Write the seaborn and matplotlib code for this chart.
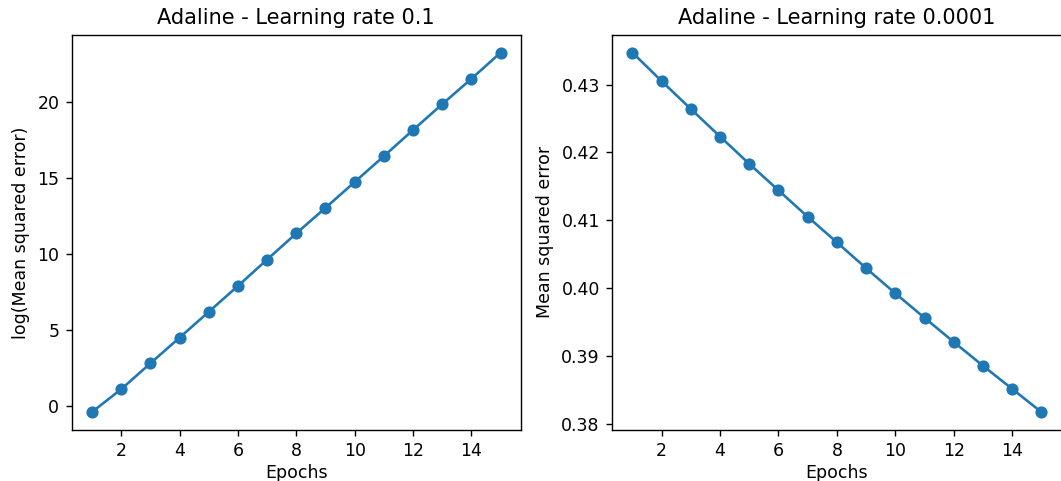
import numpy as np
import pandas as pd
import seaborn as sns
import matplotlib
matplotlib.use("Agg")
import matplotlib.pyplot as plt

epochs = list(range(1, 16))
log_mse_lr01 = [-0.38, 1.12, 2.82, 4.51, 6.21, 7.91, 9.65, 11.37, 13.05,
                14.75, 16.45, 18.17, 19.87, 21.54, 23.26]
mse_lr00001 = [0.43471, 0.43050, 0.42639, 0.42233, 0.41831, 0.41440, 0.41050,
               0.40673, 0.40292, 0.39921, 0.39560, 0.39204, 0.38853, 0.38512,
               0.38171]

titles = ["Adaline - Learning rate 0.1", "Adaline - Learning rate 0.0001"]
ylabels = ["log(Mean squared error)", "Mean squared error"]

black = {"axes.edgecolor": "black", "text.color": "black",
         "axes.labelcolor": "black", "xtick.color": "black",
         "ytick.color": "black"}
sns.set_style("ticks", rc=black)
plt.rcParams["font.family"] = ["DejaVu Sans"]

# drawn at 125 dpi so that default text and marks come out at the reference scale
fig = plt.figure(figsize=(1061 / 125, 481 / 125), dpi=125)
ax_left = fig.add_axes([0.0674, 0.106, 0.4237, 0.822])
ax_right = fig.add_axes([0.5768, 0.106, 0.4240, 0.822])

color = "#1f77b4"
for ax, values, title, ylabel in zip([ax_left, ax_right],
                                     [log_mse_lr01, mse_lr00001],
                                     titles, ylabels):
    df = pd.DataFrame({"Epochs": epochs, "value": values})
    sns.lineplot(data=df, x="Epochs", y="value", ax=ax, color=color,
                 marker="o", markersize=6, markeredgecolor=color,
                 markeredgewidth=1.0, linewidth=1.5)
    ax.set_title(title, fontsize=12)
    ax.set_xlabel("Epochs", fontsize=10, labelpad=2)
    ax.set_ylabel(ylabel, fontsize=10)
    ax.tick_params(labelsize=10, length=3.5, width=0.8)
    for s in ax.spines.values():
        s.set_visible(True)
        s.set_linewidth(0.8)

ax_left.set_xticks([2, 4, 6, 8, 10, 12, 14])
ax_right.set_xticks([2, 4, 6, 8, 10, 12, 14])
ax_left.set_yticks([0, 5, 10, 15, 20])
ax_right.set_yticks([0.38, 0.39, 0.40, 0.41, 0.42, 0.43])
ax_right.set_yticklabels(["0.38", "0.39", "0.40", "0.41", "0.42", "0.43"])

fig.savefig("out.png", dpi=125)
